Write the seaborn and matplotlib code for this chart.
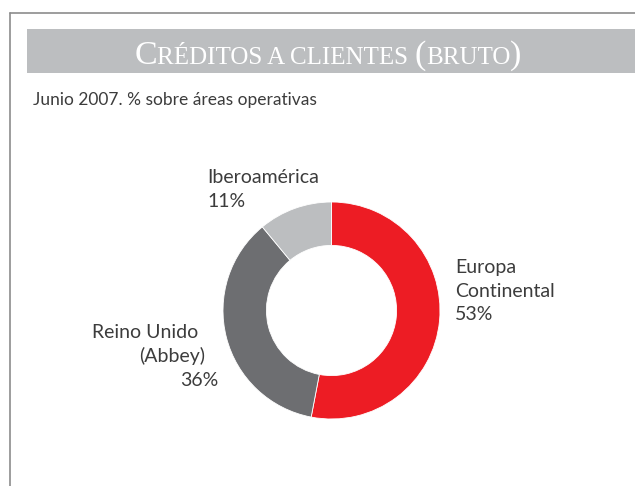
import matplotlib
matplotlib.use("Agg")
import matplotlib.pyplot as plt
from matplotlib.patches import Rectangle
import seaborn as sns

# data
areas = ["Europa\nContinental", "Reino Unido\n(Abbey)", "Iberoamérica"]
shares = [53, 36, 11]
colors = ["#ED1C24", "#6D6E71", "#BCBEC0"]

title_parts = [("C", "big"), ("RÉDITOS A CLIENTES ", "small"), ("(", "big"),
               ("BRUTO", "small"), (")", "big")]
subtitle = "Junio 2007. % sobre áreas operativas"

sns.set_theme(style="white")
plt.rcParams["font.family"] = ["Lato", "DejaVu Sans"]

W, H = 635, 486
fig = plt.figure(figsize=(W / 100, H / 100), dpi=100)
fig.patch.set_facecolor("white")

# background axes in pixel coordinates (y grows downward)
bg = fig.add_axes([0, 0, 1, 1])
bg.set_xlim(0, W)
bg.set_ylim(H, 0)
bg.axis("off")

# frame lines
bg.plot([10, W], [13, 13], color="#8C8C8C", lw=1.2)
bg.plot([10, 10], [13, H], color="#8C8C8C", lw=1.2)

# title banner
bg.add_patch(Rectangle((27, 29), W - 27, 44, color="#BCBEC0", lw=0))

# small caps title, built piece by piece
renderer = fig.canvas.get_renderer()
sizes = {"big": 24.5, "small": 18}
pieces = []
x = 0
for txt, kind in title_parts:
    t = bg.text(x, 64, txt, fontsize=sizes[kind], color="white",
                family="Liberation Serif", va="baseline", ha="left")
    pieces.append(t)
    bb = t.get_window_extent(renderer=renderer)
    x += bb.width
total = x
x0 = 328 - total / 2
for t in pieces:
    px, py = t.get_position()
    t.set_position((px + x0, py))

bg.text(33, 105, subtitle, fontsize=12.5, color="#3c3c3c", ha="left", va="baseline")

# donut
ax = fig.add_axes([223 / W, (H - 310.5 - 108.5) / H, 217 / W, 217 / H])
ax.pie(shares, colors=colors, startangle=90, counterclock=False,
       wedgeprops=dict(width=0.4, edgecolor="white", linewidth=0.6))
ax.set_xlim(-1, 1)
ax.set_ylim(-1, 1)
ax.set_aspect("equal")
ax.axis("off")

lab = dict(fontsize=14, color="#3c3c3c", va="baseline")
eu_lines = areas[0].split("\n") + [f"{shares[0]}%"]
for i, s in enumerate(eu_lines):
    bg.text(455, 273 + 23.5 * i, s, ha="left", **lab)

uk_lines = areas[1].split("\n") + [f"{shares[1]}%"]
uk_right = [198, 205, 218]
for i, s in enumerate(uk_lines):
    bg.text(uk_right[i], 338 + 24 * i, s, ha="right", **lab)

ib_lines = [areas[2], f"{shares[2]}%"]
for i, s in enumerate(ib_lines):
    bg.text(207, 183 + 23.5 * i, s, ha="left", **lab)

fig.savefig("out.png", dpi=100)
